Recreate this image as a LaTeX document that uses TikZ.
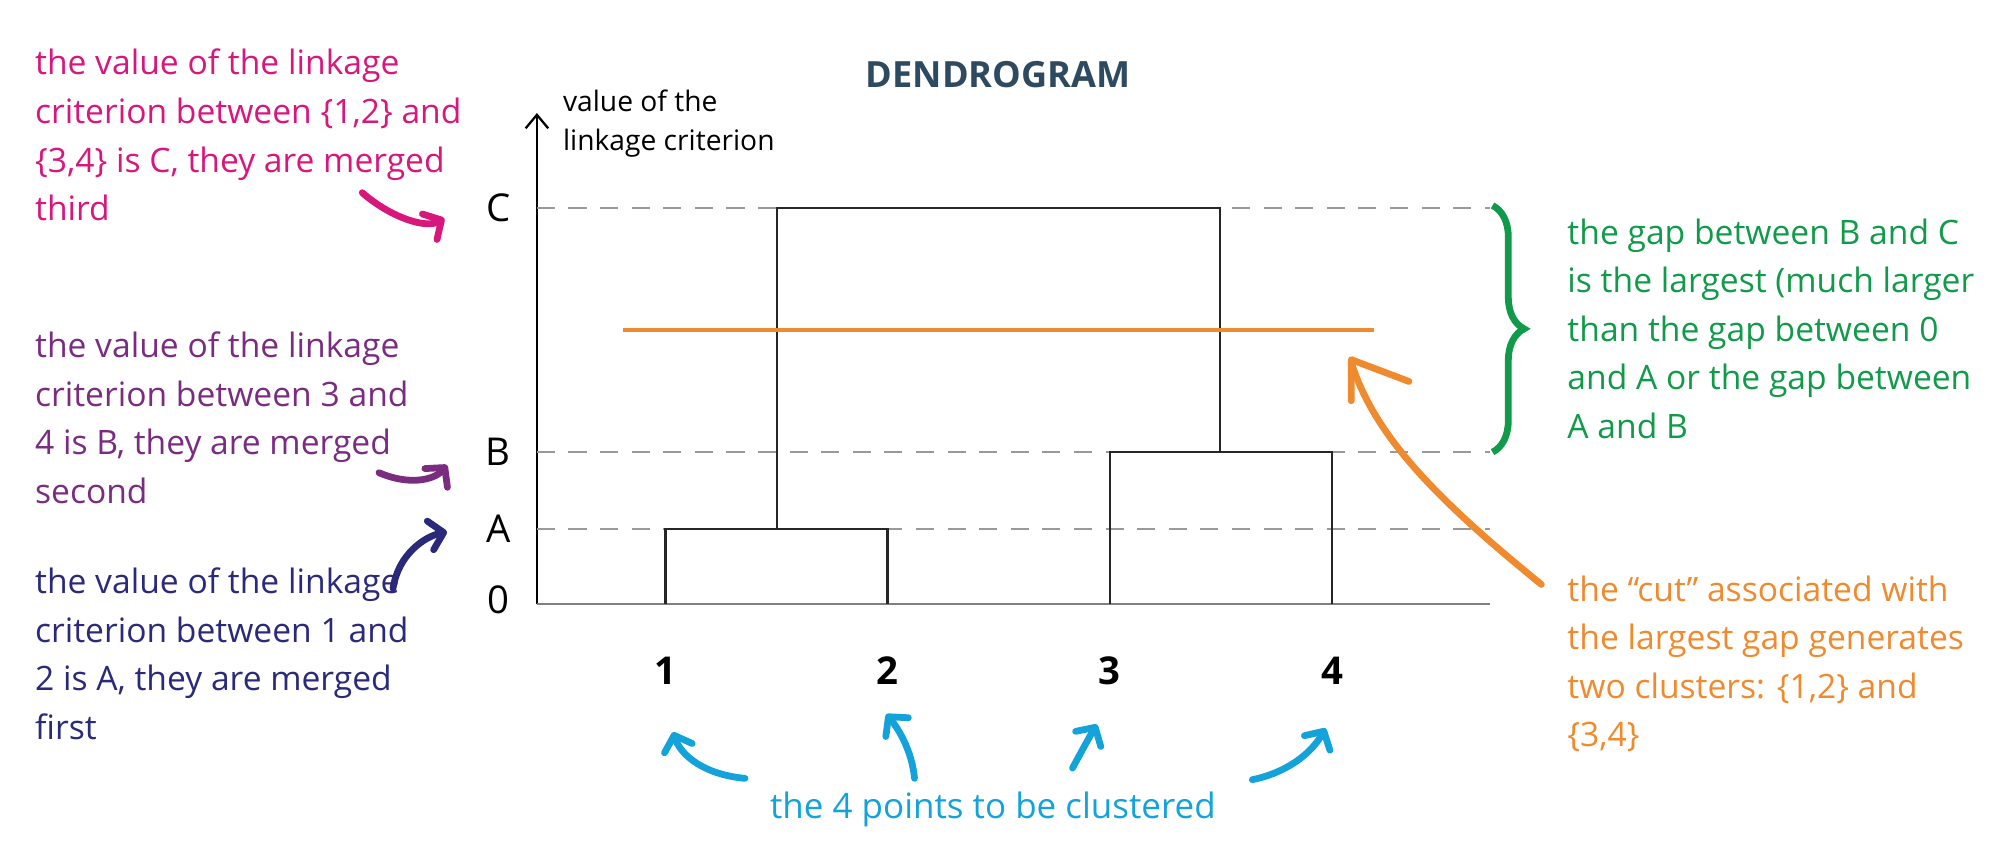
\documentclass[tikz,border=0pt]{standalone}
\usepackage{fontspec}
\setmainfont{Open Sans}
\usetikzlibrary{arrows.meta,decorations.pathreplacing}
\definecolor{cpink}{HTML}{D8177C}
\definecolor{cpurp}{HTML}{7A2C80}
\definecolor{cnavy}{HTML}{2B2A7A}
\definecolor{cgreen}{HTML}{119A4A}
\definecolor{corange}{HTML}{F08A2E}
\definecolor{cblue}{HTML}{13A3DA}
\definecolor{ctitle}{HTML}{2E4A60}
\tikzset{
 note/.style={anchor=north west,align=left,font=\fontsize{14.9}{21.5}\selectfont,inner sep=0pt},
 ylab/.style={font=\fontsize{17}{20}\selectfont,anchor=center},
 leaf/.style={font=\bfseries\fontsize{17}{20}\selectfont,anchor=center},
 guide/.style={gray!80,dashed,dash pattern=on 8pt off 6pt,line width=1pt},
 bar/.style={line width=1.1pt,black!85},
 curl/.style={line width=3pt,-{Straight Barb[length=6pt,width=13pt,line cap=round,line join=round]},line cap=round}
}
\begin{document}
\begin{tikzpicture}[x=0.02cm,y=-0.02cm]
\useasboundingbox (0,0) rectangle (1568,671);
% title
\node[font=\bfseries\fontsize{16}{20}\selectfont,text=ctitle] (title) at (777,58) {DENDROGRAM};
% axes
\coordinate (o) at (418,470); \coordinate (ytop) at (418,88); \coordinate (xend) at (1160,470);
\draw[line width=1pt,-{Straight Barb[length=6pt,width=10pt]}] (o) -- (ytop);
\draw[line width=1pt,gray] (o) -- (xend);
\node[anchor=north west,align=left,font=\fontsize{12.5}{17}\selectfont,inner sep=0pt] (ylabel) at (438,70) {value of the\\linkage criterion};
% levels
\node[ylab] (lC) at (388,162) {C};
\node[ylab] (lB) at (388,352) {B};
\node[ylab] (lA) at (388,412) {A};
\node[ylab] (l0) at (388,467) {0};
\coordinate (dC) at (1160,162); \coordinate (dB) at (1160,352); \coordinate (dA) at (1160,412);
\draw[guide] (418,162) -- (dC);
\draw[guide] (418,352) -- (dB);
\draw[guide] (418,412) -- (dA);
% dendrogram
\draw[bar] (518,470) -- (518,412) -- (691,412) -- (691,470);
\draw[bar] (864,470) -- (864,352) -- (1037,352) -- (1037,470);
\draw[bar] (605,412) -- (605,162) -- (950,162) -- (950,352);
% cut
\coordinate (cutL) at (485,257); \coordinate (cutR) at (1070,257);
\draw[corange,line width=1.5pt] (cutL) -- (cutR);
% leaves
\node[leaf] (n1) at (518,522) {1};
\node[leaf] (n2) at (691,522) {2};
\node[leaf] (n3) at (864,522) {3};
\node[leaf] (n4) at (1037,522) {4};
% left notes
\node[note,text=cpink] (tp) at (27,38) {the value of the linkage\\criterion between \{1,2\} and\\\{3,4\} is C, they are merged\\third};
\node[note,text=cpurp] (tu) at (27,258) {the value of the linkage\\criterion between 3 and\\4 is B, they are merged\\second};
\node[note,text=cnavy] (tn) at (27,442) {the value of the linkage\\criterion between 1 and\\2 is A, they are merged\\first};
\draw[curl,cpink] (282,150) .. controls (305,170) and (332,178) .. (346,170);
\draw[curl,cpurp] (295,368) .. controls (318,378) and (338,374) .. (348,362);
\draw[curl,cnavy] (306,458) .. controls (310,432) and (330,418) .. (348,414);
% right notes
\draw[cgreen,line width=3pt,decorate,decoration={brace,amplitude=14pt}] (1162,160) -- (1162,352);
\node[note,text=cgreen] (tg) at (1220,170) {the gap between B and C\\is the largest (much larger\\than the gap between 0\\and A or the gap between\\A and B};
\node[note,text=corange] (to) at (1220,448) {the “cut” associated with\\the largest gap generates\\two clusters: \{1,2\} and\\\{3,4\}};
\draw[corange,line width=3pt,line cap=round,line join=round] (1052,312) -- (1052,280) -- (1097,297);
\draw[corange,line width=3pt,line cap=round] (1200,455) .. controls (1120,390) and (1070,340) .. (1052,282);
% bottom
\node[font=\fontsize{15.5}{20}\selectfont,text=cblue] (tb) at (773,630) {the 4 points to be clustered};
\draw[curl,cblue] (580,606) .. controls (548,603) and (530,588) .. (524,570);
\draw[curl,cblue] (712,606) .. controls (710,585) and (700,568) .. (690,556);
\draw[curl,cblue] (835,598) .. controls (842,585) and (848,574) .. (854,564);
\draw[curl,cblue] (975,607) .. controls (1000,602) and (1020,588) .. (1032,567);
\end{tikzpicture}
\end{document}
